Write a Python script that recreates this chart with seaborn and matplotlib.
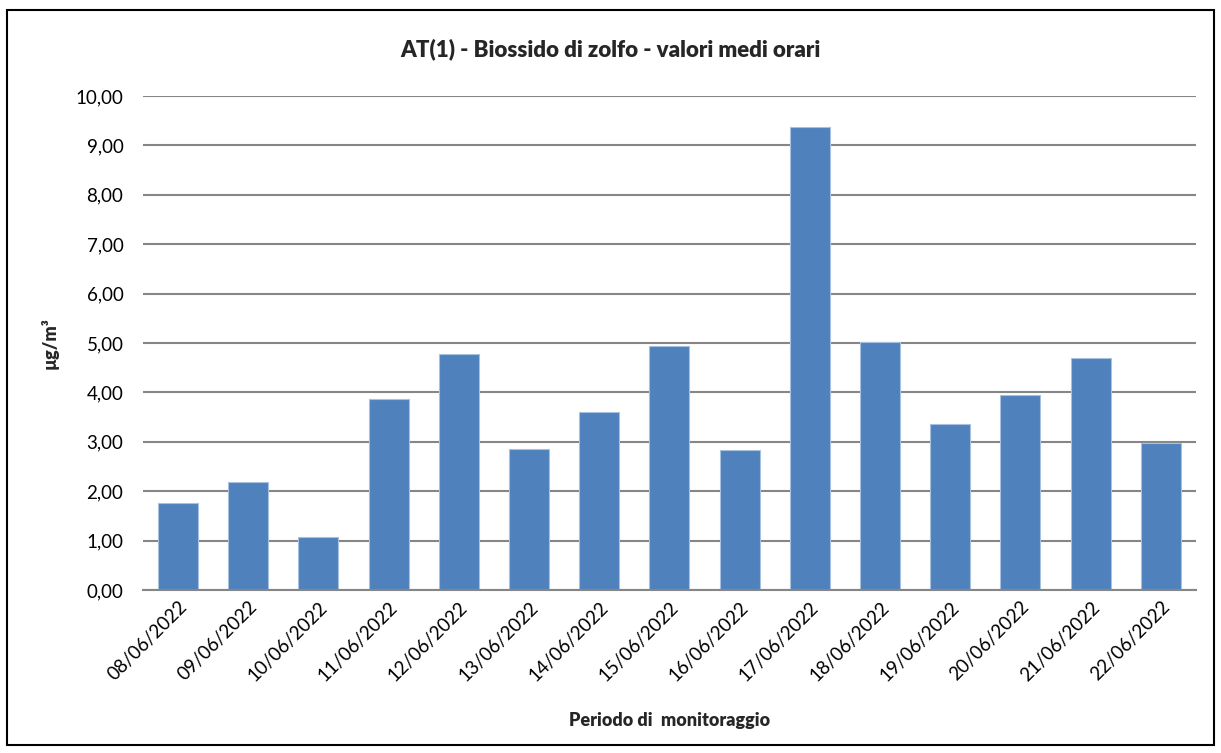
import matplotlib
matplotlib.use("Agg")
import matplotlib.pyplot as plt
import seaborn as sns
import pandas as pd
from matplotlib.patches import Rectangle
from matplotlib.ticker import FuncFormatter, MultipleLocator

dates = ["08/06/2022", "09/06/2022", "10/06/2022", "11/06/2022", "12/06/2022",
         "13/06/2022", "14/06/2022", "15/06/2022", "16/06/2022", "17/06/2022",
         "18/06/2022", "19/06/2022", "20/06/2022", "21/06/2022", "22/06/2022"]
so2 = [1.76, 2.18, 1.08, 3.86, 4.77, 2.85, 3.61, 4.94, 2.83, 9.37,
       5.03, 3.35, 3.95, 4.70, 2.98]

df = pd.DataFrame({"data": dates, "valore": so2})

sns.set_theme(style="white")
plt.rcParams['font.family'] = ['Lato', 'DejaVu Sans']

fig = plt.figure(figsize=(12.21, 7.53), dpi=100)
ax = fig.add_axes([0.117, 0.2165, 0.8625, 0.656])

sns.barplot(data=df, x="data", y="valore", color="#4F81BD", saturation=1,
            width=0.57, edgecolor="#A9C1E0", linewidth=0.8, ax=ax, zorder=3)

ax.set_ylim(0, 10)
ax.set_xlim(-0.5, len(dates) - 0.5)
ax.yaxis.set_major_locator(MultipleLocator(1))
ax.yaxis.set_major_formatter(FuncFormatter(lambda v, p: f"{v:.2f}".replace(".", ",")))
ax.grid(axis="y", color="#868686", linewidth=1.5, zorder=0)
ax.set_axisbelow(True)

for s in ["top", "right", "left"]:
    ax.spines[s].set_visible(False)
ax.spines["bottom"].set_color("#868686")
ax.spines["bottom"].set_linewidth(1.5)
ax.spines["bottom"].set_zorder(4)

ax.tick_params(axis="y", length=0, pad=14, labelsize=13.5, colors="black")
ax.tick_params(axis="x", length=0, pad=6, labelsize=13.5, colors="black")
plt.setp(ax.get_xticklabels(), rotation=45, ha="right", rotation_mode="anchor")

ax.set_xlabel("Periodo di  monitoraggio", fontsize=13, fontweight="heavy", labelpad=20)
ax.set_ylabel("µg/m³", fontsize=13, fontweight="heavy", labelpad=12)
fig.text(0.5, 0.935, "AT(1) - Biossido di zolfo - valori medi orari",
         ha="center", va="center", fontsize=16, fontweight="heavy")

fig.patches.append(Rectangle((0.006, 0.011), 0.988, 0.976, transform=fig.transFigure,
                             fill=False, edgecolor="black", linewidth=1.5))

fig.savefig("out.png", dpi=100, facecolor="white")
